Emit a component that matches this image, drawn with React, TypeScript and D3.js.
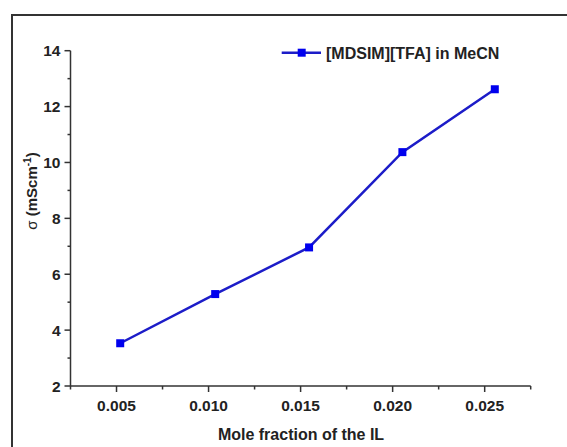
import React from "react";
import * as d3 from "d3";

const moleFraction = [0.0052, 0.01036, 0.01546, 0.02053, 0.02555];
const conductivity = [3.53, 5.29, 6.96, 10.37, 12.62];
const xTicks = [0.005, 0.01, 0.015, 0.02, 0.025];
const xMinorTicks = [0.0025, 0.0075, 0.0125, 0.0175, 0.0225, 0.0275];
const yTicks = [2, 4, 6, 8, 10, 12, 14];
const yMinorTicks = [3, 5, 7, 9, 11, 13];
const seriesName = "[MDSIM][TFA] in MeCN";

const W = 567, H = 447;
const FONT = "'Liberation Sans', Arial, sans-serif";

export default function App() {
  const x = d3.scaleLinear().domain([0.0025, 0.0275]).range([70.5, 530.7]);
  const y = d3.scaleLinear().domain([2, 14]).range([386, 50.7]);
  const line = d3.line<number>().x((_, i) => x(moleFraction[i])).y((d) => y(d));
  const axisColor = "#333";
  const lineColor = "#1c1cc8";
  const markerColor = "#0000ee";
  const ms = 8;
  return (
    <svg width={W} height={H} style={{ position: "absolute", left: 0, top: 0, background: "#fff" }} fontFamily={FONT}>
      <rect x={0} y={0} width={W} height={H} fill="#fff" />
      {/* frame */}
      <path d={`M12,${H} L12,15 L${W},15`} fill="none" stroke="#333" strokeWidth={2} />
      {/* y axis */}
      <line x1={x.range()[0]} x2={x.range()[0]} y1={y(14)} y2={y(2)} stroke={axisColor} strokeWidth={1.5} />
      {yTicks.map((t) => (
        <g key={"yt" + t}>
          <line x1={x.range()[0] - 6} x2={x.range()[0]} y1={y(t)} y2={y(t)} stroke={axisColor} strokeWidth={1.5} />
          <text x={x.range()[0] - 10} y={y(t)} dy="0.36em" textAnchor="end" fontSize={15.5} fontWeight="bold" fill="#222">
            {d3.format("d")(t)}
          </text>
        </g>
      ))}
      {yMinorTicks.map((t) => (
        <line key={"ym" + t} x1={x.range()[0] - 3} x2={x.range()[0]} y1={y(t)} y2={y(t)} stroke={axisColor} strokeWidth={1.5} />
      ))}
      {/* x axis */}
      <line x1={x.range()[0]} x2={x.range()[1]} y1={y(2)} y2={y(2)} stroke={axisColor} strokeWidth={1.5} />
      {xTicks.map((t) => (
        <g key={"xt" + t}>
          <line x1={x(t)} x2={x(t)} y1={y(2)} y2={y(2) + 6} stroke={axisColor} strokeWidth={1.5} />
          <text x={x(t)} y={411} textAnchor="middle" fontSize={15.5} fontWeight="bold" fill="#222">
            {d3.format(".3f")(t)}
          </text>
        </g>
      ))}
      {xMinorTicks.map((t) => (
        <line key={"xm" + t} x1={x(t)} x2={x(t)} y1={y(2)} y2={y(2) + 3.5} stroke={axisColor} strokeWidth={1.5} />
      ))}
      {/* axis titles */}
      <text x={301} y={440} textAnchor="middle" fontSize={16} fontWeight="bold" fill="#222">
        Mole fraction of the IL
      </text>
      <text transform="translate(37,191) rotate(-90)" textAnchor="middle" fontSize={15} fontWeight="bold" fill="#222">
        <tspan fontWeight="normal">σ</tspan> (mScm<tspan fontSize={10} dy={-6}>-1</tspan><tspan dy={6}>)</tspan>
      </text>
      {/* series */}
      <path d={line(conductivity) || ""} fill="none" stroke={lineColor} strokeWidth={2.5} />
      {conductivity.map((v, i) => (
        <rect key={"m" + i} x={x(moleFraction[i]) - ms / 2} y={y(v) - ms / 2} width={ms} height={ms} fill={markerColor} />
      ))}
      {/* legend */}
      <line x1={281.7} x2={321} y1={52.7} y2={52.7} stroke={lineColor} strokeWidth={2.5} />
      <rect x={301.7 - ms / 2} y={52.7 - ms / 2} width={ms} height={ms} fill={markerColor} />
      <text x={326} y={58.5} fontSize={16} fontWeight="bold" fill="#222">
        {seriesName}
      </text>
    </svg>
  );
}
